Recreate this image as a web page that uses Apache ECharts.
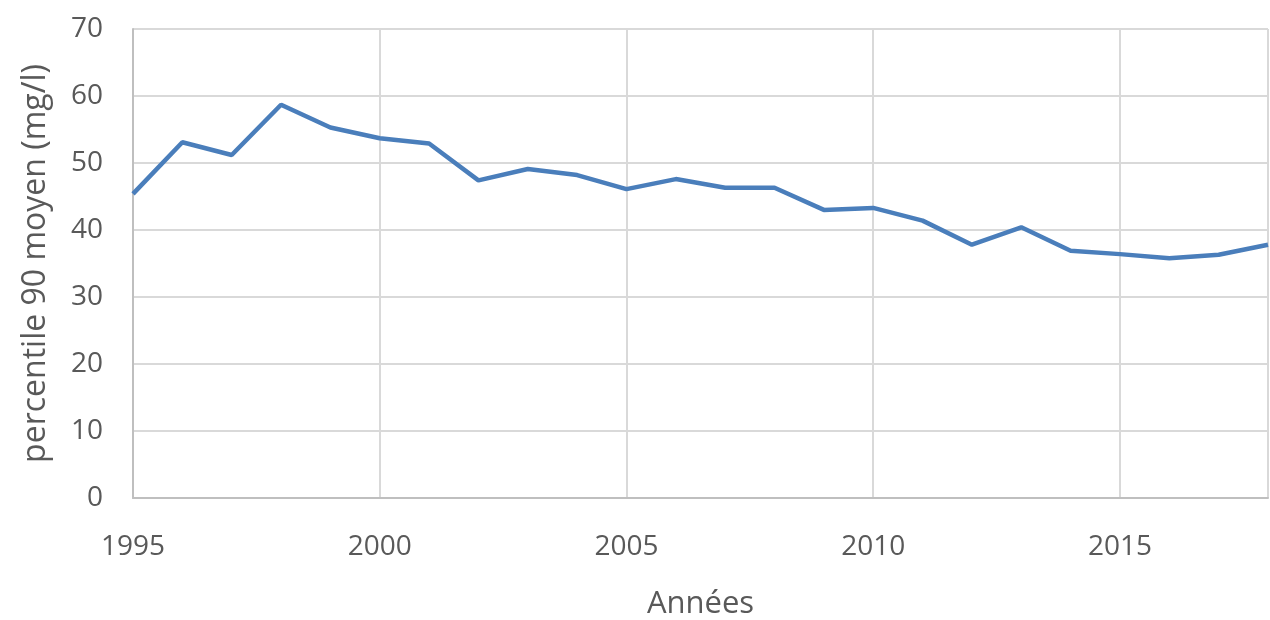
<!DOCTYPE html>
<html>
<head>
    <meta charset="utf-8">
    <title>percentile 90</title>
    <style>
        html, body { margin: 0; padding: 0; background: #fff; }
    </style>
</head>
<body>
    <div id="main" style="width: 1270px;height:620px;"></div>

    <script src="https://cdn.jsdelivr.net/npm/echarts@6/dist/echarts.min.js"></script>
    <script type="text/javascript">
        var years = [1995, 1996, 1997, 1998, 1999, 2000, 2001, 2002, 2003, 2004, 2005, 2006,
                     2007, 2008, 2009, 2010, 2011, 2012, 2013, 2014, 2015, 2016, 2017, 2018];
        var values = [45.4, 53.1, 51.2, 58.7, 55.3, 53.7, 52.9, 47.4, 49.1, 48.2, 46.1, 47.6,
                      46.3, 46.3, 43.0, 43.3, 41.4, 37.8, 40.4, 36.9, 36.4, 35.8, 36.3, 37.8];

        var points = [];
        for (var i = 0; i < years.length; i++) {
            points.push([years[i], values[i]]);
        }

        var myChart = echarts.init(document.getElementById('main'));
        var option = {
            animation: false,
            textStyle: { fontFamily: 'Open Sans' },
            grid: {
                left: 133,
                right: 2,
                top: 29,
                bottom: 122,
                outerBoundsMode: 'none',
                containLabel: false
            },
            xAxis: {
                type: 'value',
                min: 1995,
                max: 2018,
                interval: 5,
                name: 'Années',
                nameLocation: 'middle',
                nameGap: 91,
                nameTextStyle: { color: '#595959', fontSize: 31 },
                axisLine: { lineStyle: { color: '#bfbfbf', width: 2 } },
                axisTick: { show: false },
                axisLabel: {
                    color: '#595959',
                    fontSize: 28,
                    margin: 35,
                    showMaxLabel: false,
                    formatter: function (v) { return String(v); }
                },
                splitLine: { show: true, lineStyle: { color: '#d9d9d9', width: 2 } }
            },
            yAxis: {
                type: 'value',
                min: 0,
                max: 70,
                interval: 10,
                name: 'percentile 90 moyen (mg/l)',
                nameLocation: 'middle',
                nameGap: 81,
                nameTextStyle: { color: '#595959', fontSize: 32 },
                axisLine: { show: true, lineStyle: { color: '#bfbfbf', width: 2 } },
                axisTick: { show: false },
                axisLabel: { color: '#595959', fontSize: 28, margin: 30 },
                splitLine: { lineStyle: { color: '#d9d9d9', width: 2 } }
            },
            series: [
                {
                    type: 'line',
                    data: points,
                    symbol: 'none',
                    lineStyle: { color: '#4a7ebb', width: 4.5 }
                }
            ]
        };
        myChart.setOption(option);
    </script>
</body>
</html>
